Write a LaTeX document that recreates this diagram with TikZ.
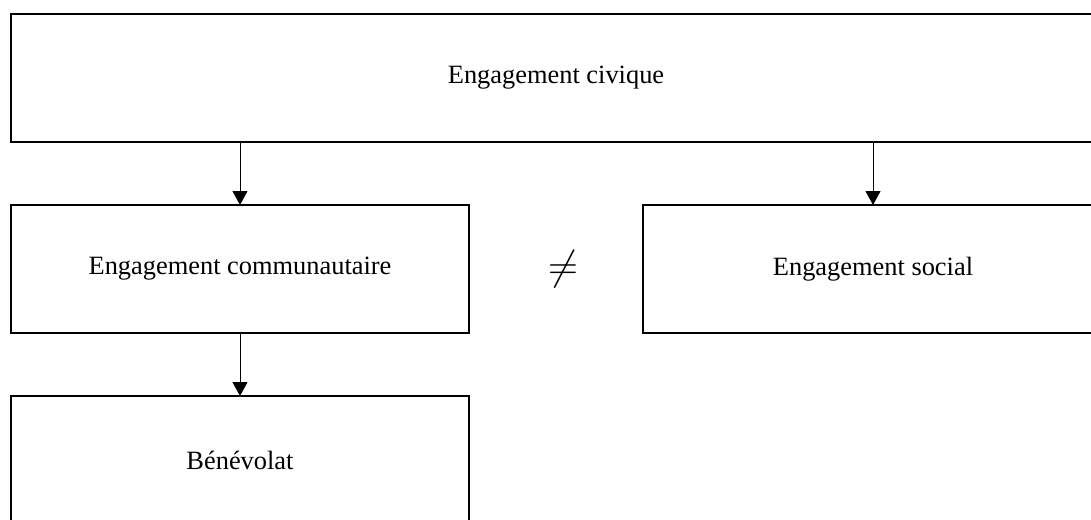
\documentclass[tikz,border=0pt]{standalone}
\usepackage{fontspec}
\setmainfont{Liberation Serif}
\usetikzlibrary{positioning, arrows.meta, calc}

\begin{document}
\begin{tikzpicture}[
    x=0.5pt, y=-0.5pt,
    node distance=31.5pt and 87pt,
    >={Triangle[width=7.5pt,length=7pt]},
    % --- Estilos ---
    base/.style={draw=black, line width=1pt, rectangle, minimum height=64pt,
                 font=\fontsize{13.2}{16}\selectfont, align=center, inner sep=0pt, outer sep=0pt},
    wide/.style={base, minimum width=545pt},
    half/.style={base, minimum width=229pt},
    link/.style={->, line width=0.5pt}
]
\clip (0,0) rectangle (1091,519);

% ====== Niveau 1 ======
\node[wide] (civique) at (556,78) {Engagement civique};

% ====== Niveau 2 ======
\node[half] (commun) [below=of civique.south west, anchor=north west] {Engagement communautaire};
\node[half, minimum width=230pt] (social) [right=of commun] {Engagement social};

\node (neq) at ($(commun.east)!0.5!(social.west)$) [xshift=3.5pt, font=\fontsize{20}{24}\selectfont] {$\neq$};

% ====== Niveau 3 ======
\node[half] (benevolat) [below=of commun] {Bénévolat};

% Connexions
\draw[link] (civique.south -| commun.north) -- (commun.north);
\draw[link] (civique.south -| social.north) -- (social.north);
\draw[link] (commun) -- (benevolat);

\end{tikzpicture}
\end{document}
